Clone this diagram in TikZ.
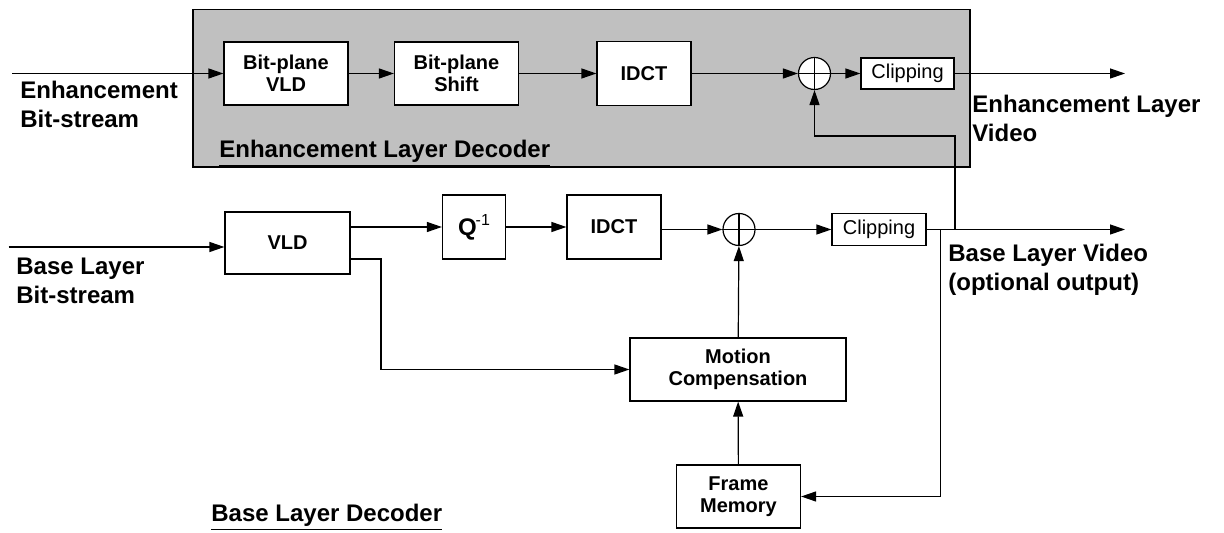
\documentclass[tikz,border=0pt]{standalone}
\usepackage{fontspec}
\setmainfont{Liberation Sans}
\usetikzlibrary{arrows.meta}
\definecolor{panelgray}{HTML}{C0C0C0}
\tikzset{
  blk/.style={draw, line width=0.6pt, fill=white, inner sep=0pt, align=center,
              font=\fontsize{10}{11}\selectfont\bfseries},
  clipbox/.style={draw, line width=0.6pt, fill=white, inner sep=0pt,
              font=\fontsize{10}{11}\selectfont},
  adder/.style={draw, line width=0.6pt, circle, minimum size=16pt, inner sep=0pt},
  conn/.style={line width=0.6pt, -{Triangle[length=7.5pt,width=5pt]}},
  wire/.style={line width=0.6pt},
  lbl/.style={align=left, inner sep=0pt, font=\fontsize{12}{14.5}\selectfont\bfseries},
}
\begin{document}
\begin{tikzpicture}[x=0.5pt,y=-0.5pt]
\useasboundingbox (0,0) rectangle (1224,533);
% enhancement panel
\draw[line width=0.6pt, fill=panelgray] (193,9.5) rectangle (970,167);

% enhancement layer nodes
\node[blk, minimum width=62pt, minimum height=31.5pt] (bpvld) at (286,73.5) {Bit-plane\\VLD};
\node[blk, minimum width=62pt, minimum height=31.5pt] (bpshift) at (456.5,73.5) {Bit-plane\\Shift};
\node[blk, minimum width=47pt, minimum height=32pt] (idctt) at (644,73.5) {IDCT};
\node[adder, fill=white] (addt) at (814.5,73.5) {};
\node[clipbox, minimum width=46.5pt, minimum height=15.5pt] (clipt) at (907.5,73.5) {Clipping};
\draw[wire] (addt.north) -- (addt.south) (addt.west) -- (addt.east);
\coordinate (inE) at (12,73.5);
\coordinate (outE) at (1125,73.5);

% base layer nodes
\node[blk, minimum width=62.5pt, minimum height=31pt] (vld) at (287.5,243) {VLD};
\node[blk, minimum width=31.5pt, minimum height=32pt, font=\fontsize{12}{13}\selectfont\bfseries] (q) at (474,227) {Q\kern-0.5pt\raisebox{5pt}{\fontsize{8}{9}\selectfont\normalfont -1}};
\node[blk, minimum width=47pt, minimum height=32pt] (idctb) at (614,227) {IDCT};
\node[adder] (addb) at (739,229.5) {};
\draw[wire] (addb.north) -- (addb.south) (addb.west) -- (addb.east);
\node[clipbox, minimum width=47pt, minimum height=16pt] (clipb) at (879,229.5) {Clipping};
\node[blk, minimum width=108pt, minimum height=31.5pt] (mc) at (738,369.5) {Motion\\Compensation};
\node[blk, minimum width=62pt, minimum height=31.5pt] (fm) at (738.5,496.5) {Frame\\Memory};
\coordinate (inB) at (8.7,247);
\coordinate (outB) at (1125,229.5);
\coordinate (jdown) at (940.5,229.5);
\coordinate (jup) at (955,229.5);
\coordinate (fbE) at (955,136);
\coordinate (vldlow) at (381,259);

% enhancement connectors
\draw[conn] (inE) -- (bpvld.west |- inE);
\draw[conn] (bpvld) -- (bpshift);
\draw[conn] (bpshift) -- (idctt);
\draw[conn] (idctt) -- (addt);
\draw[conn] (addt) -- (clipt);
\draw[conn] (clipt) -- (outE);
\draw[conn] (jup) -- (fbE) -| (addt.south);

% base connectors
\draw[conn] (inB) -- (vld.west |- inB);
\draw[conn] (vld.east |- q.west) -- (q.west);
\draw[conn] (q) -- (idctb);
\draw[conn] (idctb.east |- addb.west) -- (addb.west);
\draw[conn] (addb) -- (clipb);
\draw[conn] (clipb) -- (outB);
\draw[conn] (vld.east |- vldlow) -- (vldlow) |- (mc.west);
\draw[conn] (mc) -- (addb);
\draw[conn] (fm) -- (mc);
\draw[conn] (jdown) |- (fm.east);

% labels
\node[lbl, anchor=west] (lEB) at (20,104) {Enhancement\\Bit-stream};
\node[lbl, anchor=west] (lEV) at (972,118) {Enhancement Layer\\Video};
\node[lbl, anchor=west] (lBB) at (16,281) {Base Layer\\Bit-stream};
\node[lbl, anchor=west] (lBV) at (948,270) {Base Layer Video\\(optional output)};
\node[lbl, anchor=west] (lED) at (219,153) {\underline{Enhancement Layer Decoder}};
\node[lbl, anchor=west] (lBD) at (211,517) {\underline{Base Layer Decoder}};
\end{tikzpicture}
\end{document}
